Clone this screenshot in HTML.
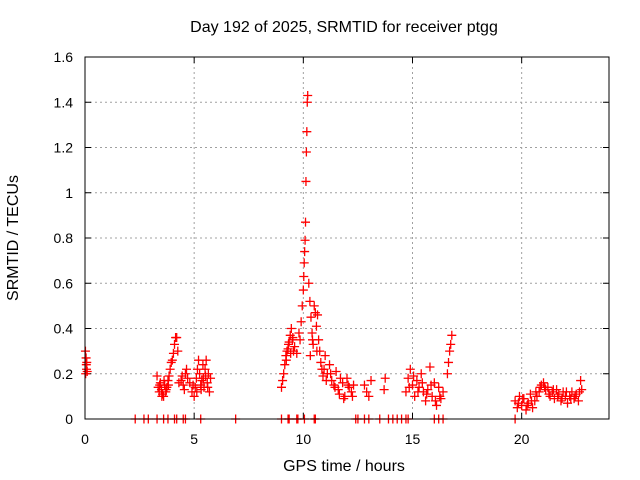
<!DOCTYPE html>
<html><head><meta charset="utf-8"><style>
body{margin:0;background:#fff;}
svg{display:block;font-family:"Liberation Sans",sans-serif;}
</style></head><body>
<svg id="chart" width="640" height="480">
<rect width="640" height="480" fill="#fff"/>
<text x="344" y="32" font-size="16" text-anchor="middle">Day 192 of 2025, SRMTID for receiver ptgg</text>
<text x="344" y="471" font-size="16" text-anchor="middle">GPS time / hours</text>
<text transform="translate(18,238) rotate(-90)" font-size="16" text-anchor="middle">SRMTID / TECUs</text>
<g id="grid"></g>
<g id="ticks"></g>
<g id="marks"></g>
<rect x="85" y="57" width="524" height="362" fill="none" stroke="#000" stroke-width="1"/>
</svg>
<script>
const xTicks=[0,5,10,15,20];
const yTicks=[0,0.2,0.4,0.6,0.8,1,1.2,1.4,1.6];
const yTickLabels=["0","0.2","0.4","0.6","0.8","1","1.2","1.4","1.6"];
const srmtidTimes=[0.02,0.03,0.05,0.06,0.07,0.08,0.1,
3.3,3.35,3.4,3.45,3.5,3.55,3.6,3.65,3.7,3.75,3.8,3.85,3.9,3.95,4.0,4.05,4.1,4.15,4.2,4.25,4.3,4.4,4.5,4.6,4.65,4.7,4.8,4.9,5.0,5.05,5.1,5.15,5.2,5.25,5.3,5.35,5.4,5.45,5.5,5.55,5.6,5.65,5.7,5.75,
3.42,3.52,3.62,3.72,3.82,4.45,4.55,4.95,5.12,5.32,5.42,5.52,5.62,
9.0,9.05,9.1,9.15,9.2,9.25,9.3,9.35,9.4,9.45,9.5,9.55,9.6,9.7,9.8,9.85,9.9,9.95,10.0,10.02,10.04,10.06,10.08,10.1,10.12,10.14,10.16,10.18,10.2,10.25,10.3,10.35,10.4,10.45,10.5,10.55,10.6,10.65,10.7,10.75,10.8,10.85,10.9,11.0,11.1,11.2,11.3,11.4,11.5,11.6,11.7,11.8,11.9,12.0,12.1,12.2,12.3,
9.22,9.32,9.42,9.52,10.32,10.42,10.62,10.95,11.05,11.25,11.45,11.65,11.85,12.05,12.25,
12.8,12.9,13.0,13.1,13.7,13.75,
14.7,14.8,14.9,15.0,15.1,15.2,15.3,15.4,15.5,15.6,15.7,15.8,15.9,16.0,16.1,16.2,16.3,16.4,16.6,16.65,16.7,16.75,16.8,
14.85,15.05,15.25,15.45,15.65,15.85,16.05,16.25,
19.7,19.8,19.9,20.0,20.1,20.2,20.3,20.4,20.5,20.6,20.7,20.8,20.9,21.0,21.1,21.2,21.3,21.4,21.5,21.6,21.7,21.8,21.9,22.0,22.1,22.2,22.3,22.4,22.5,22.6,22.7,22.75,
19.85,20.05,20.25,20.45,20.65,20.85,21.05,21.25,21.45,21.65,21.85,22.05,22.25,22.45,22.65,
2.3,2.7,2.9,3.3,3.6,3.8,4.1,4.2,4.5,4.6,5.3,6.9,9.0,9.3,9.35,9.7,9.75,10.05,10.5,10.55,12.4,12.5,12.8,13.0,13.5,13.9,14.1,14.3,14.5,14.7,14.8,16.0,16.2,16.4,19.7];
const srmtidValues=[0.3,0.2,0.27,0.24,0.22,0.25,0.21,
0.19,0.14,0.12,0.16,0.13,0.11,0.1,0.15,0.12,0.14,0.17,0.19,0.22,0.25,0.26,0.29,0.33,0.36,0.36,0.3,0.16,0.17,0.15,0.2,0.22,0.18,0.16,0.12,0.1,0.14,0.18,0.22,0.26,0.2,0.15,0.17,0.24,0.14,0.22,0.26,0.16,0.2,0.12,0.18,
0.15,0.1,0.17,0.13,0.15,0.19,0.13,0.15,0.12,0.13,0.18,0.19,0.14,
0.14,0.17,0.2,0.24,0.28,0.3,0.31,0.34,0.37,0.4,0.35,0.3,0.32,0.29,0.38,0.35,0.43,0.5,0.57,0.63,0.69,0.74,0.79,0.87,1.05,1.18,1.27,1.4,1.43,0.6,0.52,0.45,0.38,0.33,0.5,0.47,0.41,0.46,0.35,0.3,0.25,0.22,0.19,0.28,0.2,0.24,0.17,0.15,0.21,0.13,0.18,0.16,0.1,0.18,0.14,0.12,0.15,
0.26,0.33,0.29,0.36,0.28,0.35,0.3,0.22,0.17,0.2,0.14,0.11,0.09,0.15,0.1,
0.15,0.12,0.1,0.17,0.13,0.18,
0.12,0.18,0.22,0.15,0.1,0.17,0.14,0.2,0.12,0.08,0.13,0.23,0.1,0.16,0.06,0.14,0.09,0.12,0.2,0.25,0.3,0.33,0.37,
0.14,0.19,0.12,0.16,0.11,0.15,0.08,0.1,
0.08,0.05,0.1,0.06,0.09,0.04,0.07,0.11,0.05,0.08,0.1,0.12,0.15,0.16,0.13,0.14,0.1,0.12,0.09,0.13,0.11,0.08,0.12,0.1,0.07,0.1,0.12,0.09,0.11,0.08,0.17,0.13,
0.07,0.09,0.06,0.08,0.12,0.14,0.14,0.11,0.13,0.1,0.09,0.12,0.09,0.1,0.12,
0,0,0,0,0,0,0,0,0,0,0,0,0,0,0,0,0,0,0,0,0,0,0,0,0,0,0,0,0,0,0,0,0,0,0];
const X0=85,X1=609,Y0=419,Y1=57,XMAX=24,YMAX=1.6;
function xs(t){return X0+(X1-X0)*t/XMAX;}
function ys(v){return Y0-(Y0-Y1)*v/YMAX;}
const NS="http://www.w3.org/2000/svg";
const grid=document.getElementById('grid'),ticks=document.getElementById('ticks'),marks=document.getElementById('marks');
function mk(tag,attrs,parent){const e=document.createElementNS(NS,tag);for(const k in attrs)e.setAttribute(k,attrs[k]);parent.appendChild(e);return e;}
yTicks.forEach((v,i)=>{const y=ys(v);
 if(i>0&&i<yTicks.length-1){const g=mk('line',{x1:X0,x2:X1,y1:y,y2:y,stroke:'#a0a0a0','stroke-dasharray':'2,3'},grid);
 
 }
 mk('line',{x1:X0,x2:X0+6,y1:y,y2:y,stroke:'#000'},ticks);
 mk('line',{x1:X1,x2:X1-6,y1:y,y2:y,stroke:'#000'},ticks);
 const t=mk('text',{x:X0-12,y:y+5,'font-size':14,'text-anchor':'end'},ticks);t.textContent=yTickLabels[i];
 
 
});
xTicks.forEach(v=>{const x=xs(v);
 if(v>0){const g=mk('line',{x1:x,x2:x,y1:Y0,y2:Y1,stroke:'#a0a0a0','stroke-dasharray':'2,3'},grid);
 
 }
 mk('line',{x1:x,x2:x,y1:Y0,y2:Y0-6,stroke:'#000'},ticks);
 mk('line',{x1:x,x2:x,y1:Y1,y2:Y1+6,stroke:'#000'},ticks);
 const t=mk('text',{x:x,y:Y0+25,'font-size':14,'text-anchor':'middle'},ticks);t.textContent=String(v);
 
 
});
srmtidTimes.forEach((t,i)=>{const x=xs(t),y=ys(srmtidValues[i]);
 const p=mk('path',{d:`M${x-4.5},${y}H${x+4.5}M${x},${y-4.5}V${y+4.5}`,stroke:'#ff0000','stroke-width':1.3,fill:'none'},marks);
 
 
});
</script>
</body></html>
